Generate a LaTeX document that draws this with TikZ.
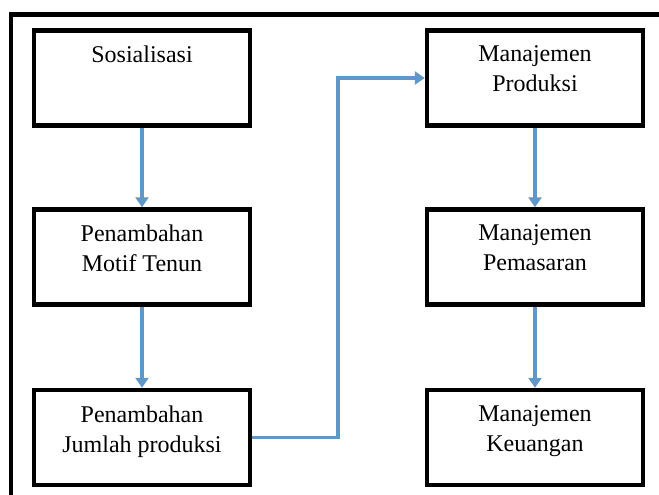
\documentclass[tikz,border=0pt]{standalone}
\usepackage{fontspec}
\setmainfont{Liberation Serif}
\usetikzlibrary{arrows.meta,positioning}
\definecolor{arrblue}{RGB}{96,150,200}

\begin{document}
\begin{tikzpicture}[x=1pt,y=-1pt,
    box/.style={draw,line width=4.5pt,minimum width=216pt,minimum height=95pt},
    txt/.style={inner sep=0pt,align=center,font=\fontsize{24}{30}\selectfont},
    arr/.style={draw=arrblue,line width=3.5pt,-{Triangle[length=10pt,width=13pt]}}]
    \clip (0,0) rectangle (659,495);
    \draw[line width=4.5pt] (11,14.5) rectangle (700,540);

    \node[box] (sos) at (142,78) {};
    \node[box] (motif) at (142,257) {};
    \node[box] (jumlah) at (142,437.5) {};
    \node[box] (prod) at (535,78) {};
    \node[box] (pasar) at (535,257) {};
    \node[box] (uang) at (535,437.5) {};

    \node[txt, below=17.6pt of sos.north] (sos-t) {Sosialisasi};
    \node[txt, below=17.6pt of motif.north] (motif-t) {Penambahan\\Motif Tenun};
    \node[txt, below=17.6pt of jumlah.north] (jumlah-t) {Penambahan\\Jumlah produksi};
    \node[txt, below=17.6pt of prod.north] (prod-t) {Manajemen\\Produksi};
    \node[txt, below=17.6pt of pasar.north] (pasar-t) {Manajemen\\Pemasaran};
    \node[txt, below=17.6pt of uang.north] (uang-t) {Manajemen\\Keuangan};

    \foreach \a/\b in {sos/motif, motif/jumlah, prod/pasar, pasar/uang} {
      \draw[arr] (\a) -- (\b) ;
    } ;
    \draw[arr] (jumlah.east) -| (338,78) -- (prod.west) ;
\end{tikzpicture}
\end{document}
